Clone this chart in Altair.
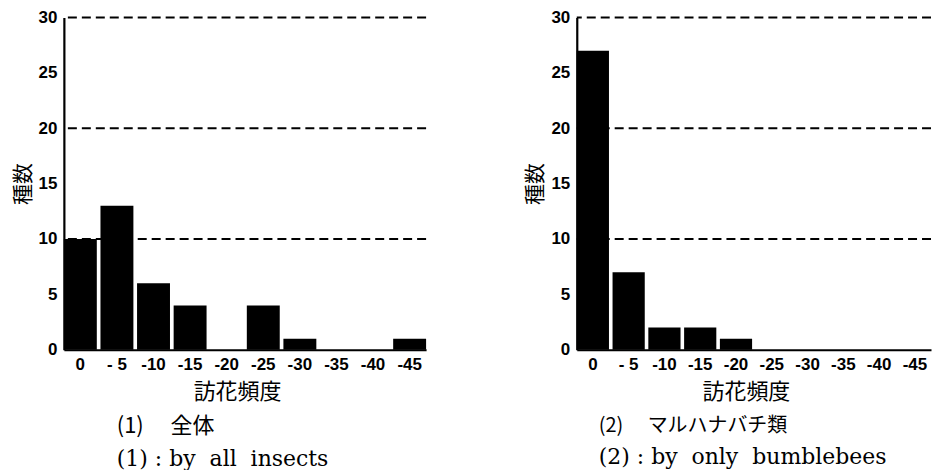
import altair as alt
import pandas as pd

categories = ["0", "- 5", "-10", "-15", "-20", "-25", "-30", "-35", "-40", "-45"]
all_insects = [10, 13, 6, 4, 0, 4, 1, 0, 0, 1]
bumblebees = [27, 7, 2, 2, 1, 0, 0, 0, 0, 0]
grid_levels = [10, 20, 30]
y_ticks = [0, 5, 10, 15, 20, 25, 30]

x_title = "訪花頻度"
y_title = "種数"
captions = [
    ("(1)\u3000\u00a0全体", "(1)\u00a0:\u00a0by\u00a0\u00a0all\u00a0\u00a0insects", 53, 22),
    ("(2)\u3000\u00a0マルハナバチ類", "(2)\u00a0:\u00a0by\u00a0\u00a0only\u00a0\u00a0bumblebees", 22, 20),
]

H = 333


def y_axis():
    return alt.Axis(
        title=y_title,
        values=y_ticks,
        ticks=False,
        grid=False,
        domainColor="black",
        domainWidth=2.2,
        labelFont="Liberation Sans",
        labelFontSize=17,
        labelFontWeight="bold",
        labelColor="black",
        labelPadding=7,
        titleFont="Noto Sans CJK JP",
        titleFontSize=21,
        titleFontWeight="normal",
        titleColor="black",
        titlePadding=5,
    )


def panel(values, cap, W):
    df = pd.DataFrame({"freq": categories, "n": values})
    grid_df = pd.DataFrame({"g": grid_levels})
    yscale = alt.Scale(domain=[0, 30], nice=False)
    grid = alt.Chart(grid_df).mark_rule(
        color="black", strokeDash=[9, 5], strokeWidth=1.8
    ).encode(y=alt.Y("g:Q", scale=yscale, axis=y_axis()))
    bars = alt.Chart(df).mark_bar(color="black").encode(
        x=alt.X(
            "freq:N",
            sort=categories,
            scale=alt.Scale(paddingInner=0.1, paddingOuter=0),
            axis=alt.Axis(
                title=x_title,
                labelAngle=0,
                ticks=False,
                domainColor="black",
                domainWidth=2.2,
                labelFont="Liberation Sans",
                labelFontSize=17,
                labelFontWeight="bold",
                labelColor="black",
                labelPadding=7,
                titleFont="Noto Sans CJK JP",
                titleFontSize=22,
                titleFontWeight="normal",
                titleColor="black",
                titlePadding=9,
                titleX=W / 2 - 8,
            ),
        ),
        y=alt.Y("n:Q", scale=yscale, axis=y_axis()),
    )
    return alt.layer(grid, bars).properties(
        width=W,
        height=H,
        title=alt.TitleParams(
            text=cap[0],
            subtitle=cap[1],
            orient="bottom",
            anchor="start",
            frame="group",
            dx=cap[2],
            offset=13,
            font="Noto Sans CJK JP",
            fontSize=cap[3],
            fontWeight="normal",
            color="black",
            subtitleFont="DejaVu Serif",
            subtitleFontSize=22,
            subtitleColor="black",
            subtitlePadding=11,
        ),
    )


chart = alt.hconcat(
    panel(all_insects, captions[0], 363),
    panel(bumblebees, captions[1], 355),
    spacing=98,
).properties(
    padding={"left": 4, "top": 0, "right": 0, "bottom": 0}
).configure_view(stroke=None)

chart.save("out.html", embed_options={"renderer": "svg", "actions": False})
